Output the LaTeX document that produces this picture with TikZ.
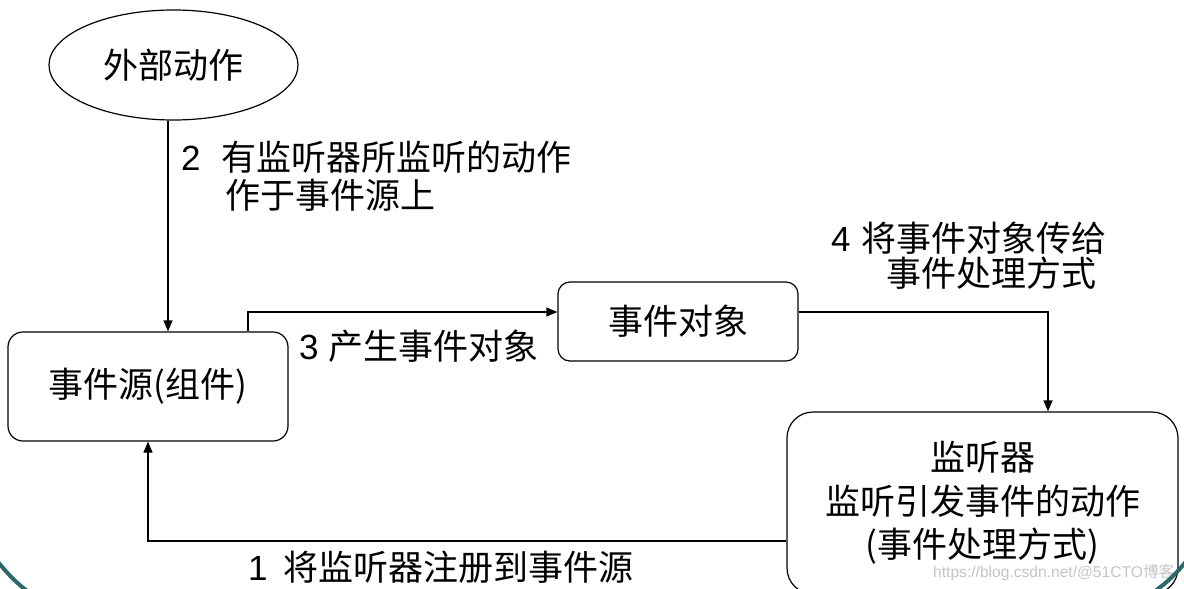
\documentclass[tikz,border=0pt]{standalone}
\usepackage{fontspec}
\setmainfont{Liberation Sans}
\newfontfamily\cjk{Noto Sans CJK SC}
\usetikzlibrary{arrows.meta,shapes.geometric,calc}
\definecolor{frameteal}{HTML}{2B6A68}
\definecolor{wmgray}{HTML}{C4C4C4}
\begin{document}
\begin{tikzpicture}[x=1pt,y=-1pt,
  box/.style={draw, line width=1.2pt, inner sep=0pt, align=center,
    font=\cjk\fontsize{35}{43.5}\selectfont},
  lbl/.style={anchor=base west, inner sep=0pt, font=\fontsize{35}{43}\selectfont},
  arr/.style={-{Triangle[length=11pt,width=9pt]}, line width=1.2pt},
  frame/.style={draw=frameteal, line width=4pt}]
\useasboundingbox (0,0) rectangle (1184,589);
\clip (0,0) rectangle (1184,589);

% nodes
\node[box, ellipse, minimum width=249pt, minimum height=110pt] (ext) at (173.5,65) {外部动作};
\node[box, rounded corners=15pt, minimum width=280pt, minimum height=109pt] (src) at (148,386.5) {事件源(组件)};
\node[box, rounded corners=12pt, minimum width=240pt, minimum height=79pt] (obj) at (678,321.5) {事件对象};
\node[box, rounded corners=26pt, minimum width=391pt, minimum height=182pt] (lis) at (982.5,503) {监听器\\监听引发事件的动作\\(事件处理方式)};

% connectors
\draw[arr] ([xshift=-5.5pt]ext.south) -- ([xshift=-5.5pt]ext.south |- src.north);
\draw[arr] ([xshift=100pt]src.north) |- ([yshift=9.5pt]obj.west);
\draw[arr] ([yshift=9.5pt]obj.east) -| ([xshift=65.5pt]lis.north);
\draw[arr] ([yshift=-38pt]lis.west) -| (src.south);

% labels
\node[lbl] (l2a) at (181,170) {2\hspace{21pt}{\cjk 有监听器所监听的动作}};
\node[lbl] (l2b) at (225,208) {\cjk 作于事件源上};
\node[lbl] (l3) at (299,359) {3\hspace{10pt}{\cjk 产生事件对象}};
\node[lbl] (l4a) at (831,251) {4\hspace{11pt}{\cjk 将事件对象传给}};
\node[lbl] (l4b) at (886,286) {\cjk 事件处理方式};
\node[lbl] (l1) at (248,580) {1\hspace{16pt}{\cjk 将监听器注册到事件源}};

% watermark
\node[anchor=base west, inner sep=0pt, text=wmgray, font=\fontsize{15.6}{15.6}\selectfont] (wm) at (933,577) {https://blog.csdn.net/@51CTO{\cjk 博客}};

% slide frame arcs
\draw[frame] (-2,562) .. controls (8,574) and (16,583) .. (30,593);
\draw[frame] (1187,560) .. controls (1177,573) and (1167,583) .. (1152,593);
\end{tikzpicture}
\end{document}
